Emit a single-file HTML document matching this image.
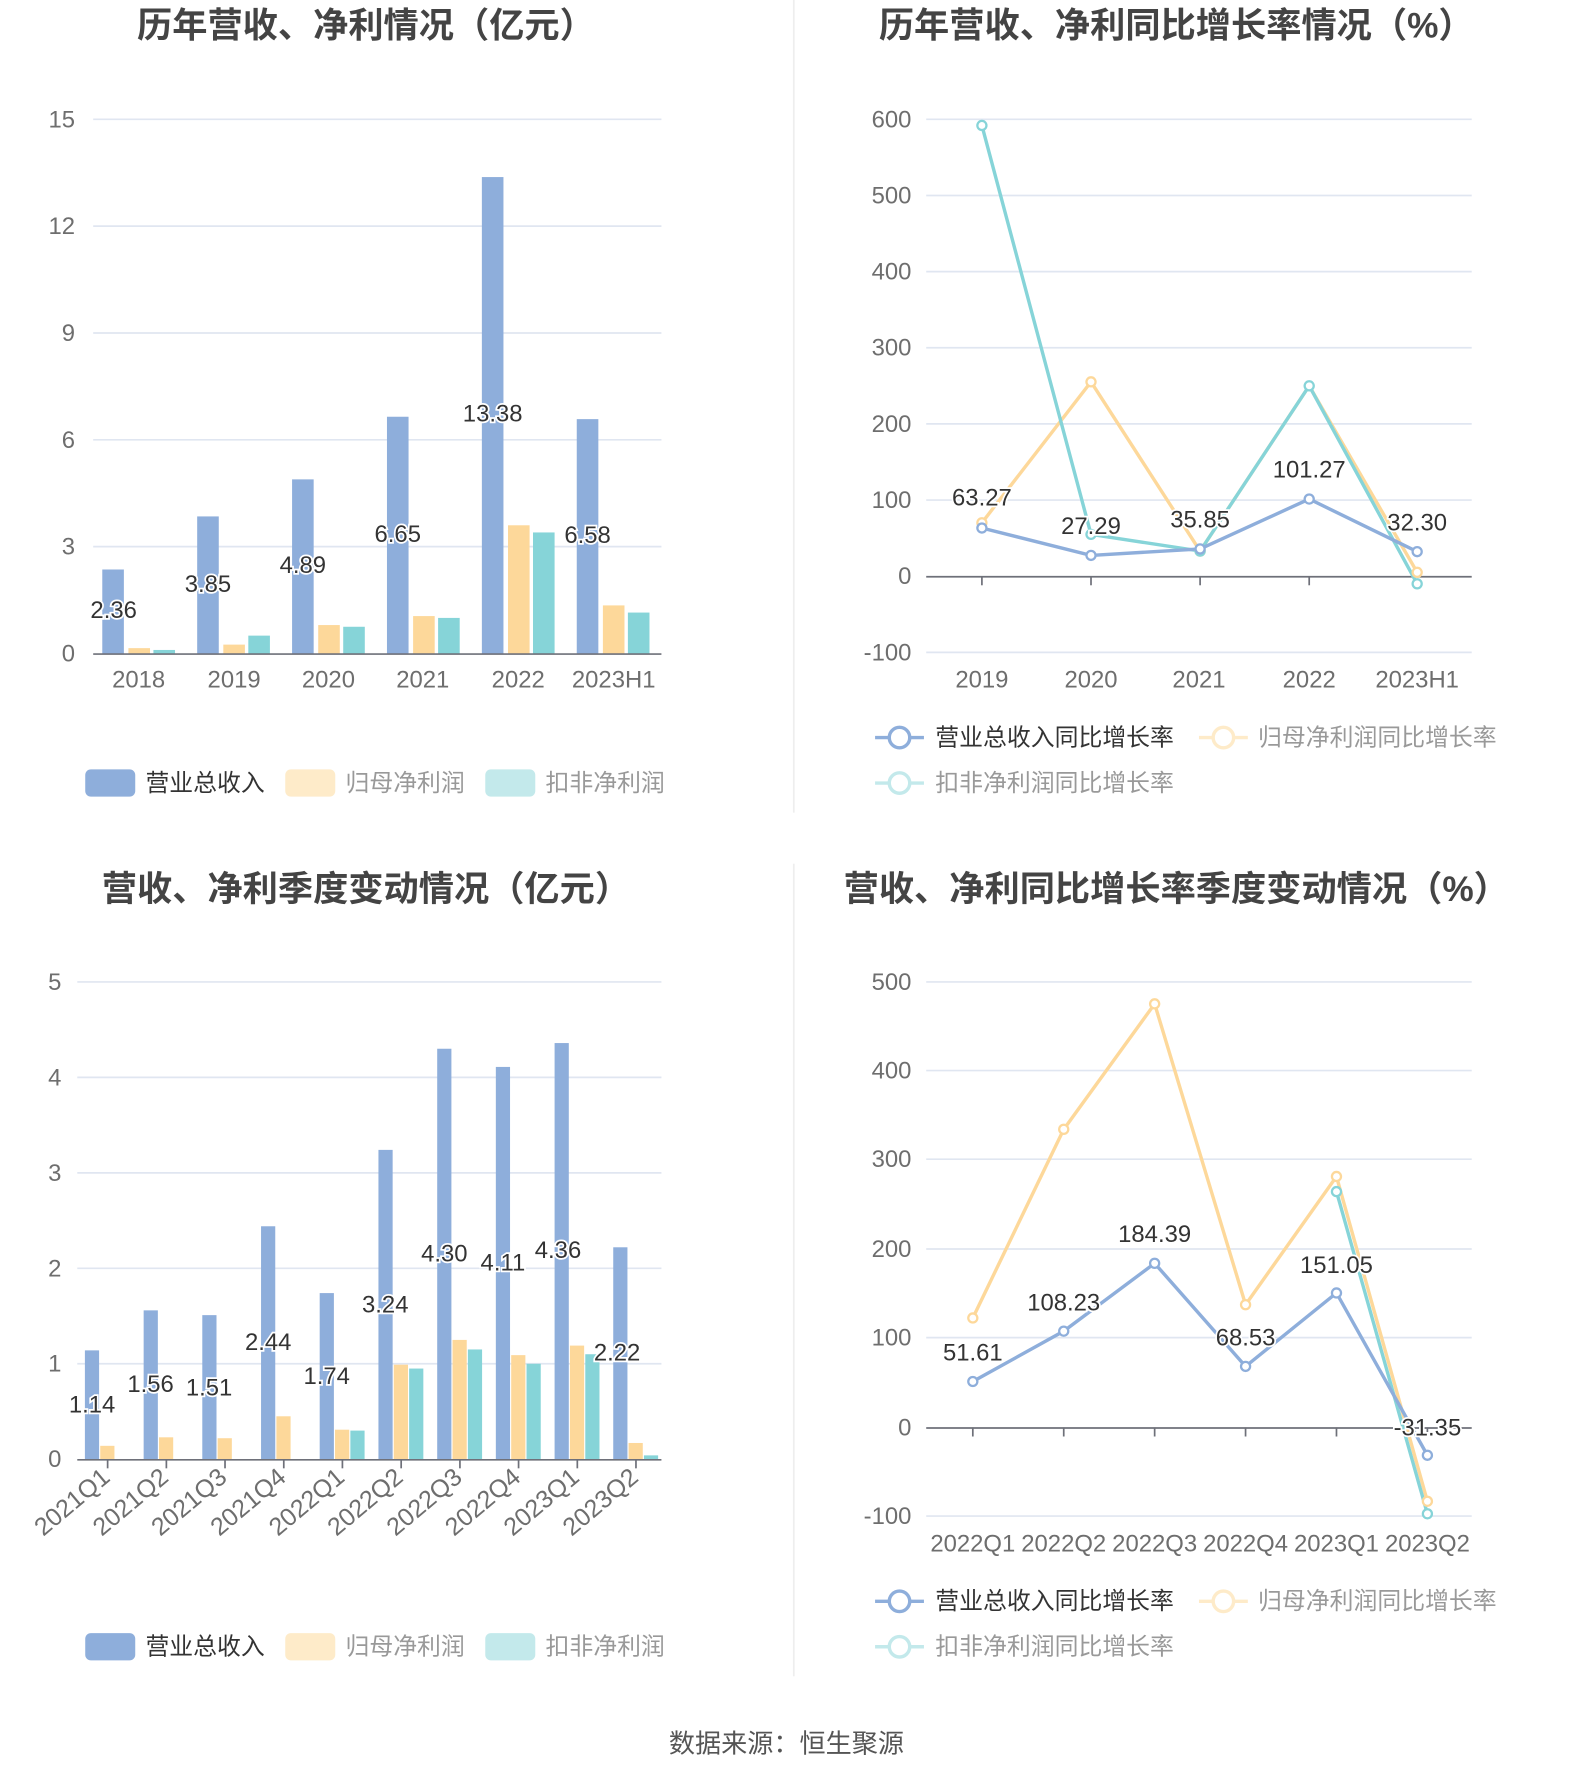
<!DOCTYPE html>
<html><head><meta charset="utf-8"><style>
html,body{margin:0;padding:0;background:#fff;}
svg{display:block;font-family:"Liberation Sans","Noto Sans CJK SC",sans-serif;}
.t{font-size:31px;font-weight:bold;fill:#444;text-anchor:middle;}
.ax{font-size:21px;fill:#6e6e6e;}
.rot{font-size:22px;}
.r{text-anchor:end;}
.c{text-anchor:middle;}
.g{stroke:#e0e6f1;stroke-width:1.5;}
.v{font-size:21px;fill:#333;text-anchor:middle;stroke:#fff;stroke-width:3;paint-order:stroke;}
.lg{font-size:21px;}
.B{fill:#8eaedb}.O{fill:#fdd89a}.T{fill:#86d4d8}
</style></head><body>
<svg width="1574" height="1782" viewBox="0 0 1385 1568" preserveAspectRatio="none">
<rect width="1385" height="1568" fill="#fff"/>
<line x1="698.5" y1="0" x2="698.5" y2="715" stroke="#eee" stroke-width="1.5"/>
<line x1="698.5" y1="760" x2="698.5" y2="1475" stroke="#eee" stroke-width="1.5"/>

<!-- Chart 1 -->
<text class="t" x="322" y="33">历年营收、净利情况（亿元）</text>
<g class="g">
<line x1="82" y1="105" x2="582" y2="105"/><line x1="82" y1="199" x2="582" y2="199"/><line x1="82" y1="293" x2="582" y2="293"/><line x1="82" y1="387" x2="582" y2="387"/><line x1="82" y1="481" x2="582" y2="481"/>
</g>
<g class="ax r">
<text x="66" y="112">15</text><text x="66" y="206">12</text><text x="66" y="300">9</text><text x="66" y="394">6</text><text x="66" y="488">3</text><text x="66" y="582">0</text>
</g>
<rect class="B" x="90" y="501.1" width="19" height="73.9"/><rect class="O" x="113" y="570.3" width="19" height="4.7"/><rect class="T" x="135" y="571.9" width="19" height="3.1"/>
<rect class="B" x="173.5" y="454.4" width="19" height="120.6"/><rect class="O" x="196.5" y="567.2" width="19" height="7.8"/><rect class="T" x="218.5" y="559.3" width="19" height="15.7"/>
<rect class="B" x="257" y="421.8" width="19" height="153.2"/><rect class="O" x="280" y="550" width="19" height="25"/><rect class="T" x="302" y="551.5" width="19" height="23.5"/>
<rect class="B" x="340.5" y="366.7" width="19" height="208.3"/><rect class="O" x="363.5" y="542.1" width="19" height="32.9"/><rect class="T" x="385.5" y="543.7" width="19" height="31.3"/>
<rect class="B" x="424" y="155.8" width="19" height="419.2"/><rect class="O" x="447" y="462.2" width="19" height="112.8"/><rect class="T" x="469" y="468.5" width="19" height="106.5"/>
<rect class="B" x="507.5" y="368.8" width="19" height="206.2"/><rect class="O" x="530.5" y="532.7" width="19" height="42.3"/><rect class="T" x="552.5" y="539" width="19" height="36"/>
<line x1="82" y1="575.5" x2="582" y2="575.5" stroke="#6e7079" stroke-width="1.5"/>
<text class="v" x="100" y="544">2.36</text><text class="v" x="183" y="521">3.85</text><text class="v" x="266.5" y="504">4.89</text><text class="v" x="350" y="477">6.65</text><text class="v" x="433.5" y="371">13.38</text><text class="v" x="517" y="478">6.58</text>
<g class="ax c">
<text x="122" y="605">2018</text><text x="206" y="605">2019</text><text x="289" y="605">2020</text><text x="372" y="605">2021</text><text x="456" y="605">2022</text><text x="540" y="605">2023H1</text>
</g>
<rect x="75" y="677" width="44" height="24" rx="5" fill="#8eaedb"/><text class="lg" x="128" y="696" fill="#333">营业总收入</text>
<rect x="251" y="677" width="44" height="24" rx="5" fill="#feebc9"/><text class="lg" x="304" y="696" fill="#999">归母净利润</text>
<rect x="427" y="677" width="44" height="24" rx="5" fill="#c3e9eb"/><text class="lg" x="480" y="696" fill="#999">扣非净利润</text>

<!-- Chart 2 -->
<text class="t" x="1035" y="33">历年营收、净利同比增长率情况（%）</text>
<g class="g">
<line x1="815" y1="105" x2="1295" y2="105"/><line x1="815" y1="172" x2="1295" y2="172"/><line x1="815" y1="239" x2="1295" y2="239"/><line x1="815" y1="306" x2="1295" y2="306"/><line x1="815" y1="373" x2="1295" y2="373"/><line x1="815" y1="440" x2="1295" y2="440"/><line x1="815" y1="574" x2="1295" y2="574"/>
</g>
<g class="ax r">
<text x="802" y="112">600</text><text x="802" y="179">500</text><text x="802" y="246">400</text><text x="802" y="313">300</text><text x="802" y="380">200</text><text x="802" y="447">100</text><text x="802" y="514">0</text><text x="802" y="581">-100</text>
</g>
<g stroke="#6e7079" stroke-width="1.5"><line x1="815" y1="507.5" x2="1295" y2="507.5"/>
<line x1="864" y1="507" x2="864" y2="515"/><line x1="960" y1="507" x2="960" y2="515"/><line x1="1056" y1="507" x2="1056" y2="515"/><line x1="1152" y1="507" x2="1152" y2="515"/></g>
<g fill="#fff" stroke-width="3">
<polyline fill="none" stroke="#fdd89a" points="864,460 960,336 1056,484.9 1152,339.5 1247,503.6"/>
<polyline fill="none" stroke="#86d4d8" points="864,110.4 960,470.2 1056,484.9 1152,339.5 1247,513.7"/>
<polyline fill="none" stroke="#8eaedb" points="864,464.6 960,488.7 1056,483 1152,439.1 1247,485.4"/>
<g stroke="#fdd89a" stroke-width="2"><circle cx="864" cy="460" r="4"/><circle cx="960" cy="336" r="4"/><circle cx="1056" cy="484.9" r="4"/><circle cx="1247" cy="503.6" r="4"/></g>
<g stroke="#86d4d8" stroke-width="2"><circle cx="864" cy="110.4" r="4"/><circle cx="960" cy="470.2" r="4"/><circle cx="1056" cy="484.9" r="4"/><circle cx="1152" cy="339.5" r="4"/><circle cx="1247" cy="513.7" r="4"/></g>
<g stroke="#8eaedb" stroke-width="2"><circle cx="864" cy="464.6" r="4"/><circle cx="960" cy="488.7" r="4"/><circle cx="1056" cy="483" r="4"/><circle cx="1152" cy="439.1" r="4"/><circle cx="1247" cy="485.4" r="4"/></g>
</g>
<text class="v" x="864" y="445">63.27</text><text class="v" x="960" y="470">27.29</text><text class="v" x="1056" y="464">35.85</text><text class="v" x="1152" y="420">101.27</text><text class="v" x="1247" y="467">32.30</text>
<g class="ax c">
<text x="864" y="605">2019</text><text x="960" y="605">2020</text><text x="1055" y="605">2021</text><text x="1152" y="605">2022</text><text x="1247" y="605">2023H1</text>
</g>
<g fill="#fff" stroke-width="3">
<line x1="770" y1="649" x2="813" y2="649" stroke="#8eaedb"/><circle cx="791.5" cy="649" r="9" stroke="#8eaedb"/>
<line x1="1055" y1="649" x2="1098" y2="649" stroke="#feebc9"/><circle cx="1076.5" cy="649" r="9" stroke="#feebc9"/>
<line x1="770" y1="689" x2="813" y2="689" stroke="#c3e9eb"/><circle cx="791.5" cy="689" r="9" stroke="#c3e9eb"/>
</g>
<text class="lg" x="823" y="656" fill="#333">营业总收入同比增长率</text>
<text class="lg" x="1107" y="656" fill="#999">归母净利润同比增长率</text>
<text class="lg" x="823" y="696" fill="#999">扣非净利润同比增长率</text>

<!-- Chart 3 -->
<text class="t" x="322" y="793">营收、净利季度变动情况（亿元）</text>
<g class="g">
<line x1="68" y1="864" x2="582" y2="864"/><line x1="68" y1="948" x2="582" y2="948"/><line x1="68" y1="1032" x2="582" y2="1032"/><line x1="68" y1="1116" x2="582" y2="1116"/><line x1="68" y1="1200" x2="582" y2="1200"/>
</g>
<g class="ax r">
<text x="54" y="871">5</text><text x="54" y="955">4</text><text x="54" y="1039">3</text><text x="54" y="1123">2</text><text x="54" y="1207">1</text><text x="54" y="1291">0</text>
</g>
<g>
<rect class="B" x="74.7" y="1188.2" width="12.5" height="95.8"/><rect class="O" x="88.2" y="1272.2" width="12.5" height="11.8"/>
<rect class="B" x="126.4" y="1153" width="12.5" height="131"/><rect class="O" x="139.9" y="1264.7" width="12.5" height="19.3"/>
<rect class="B" x="178" y="1157.2" width="12.5" height="126.8"/><rect class="O" x="191.5" y="1265.5" width="12.5" height="18.5"/>
<rect class="B" x="229.7" y="1079" width="12.5" height="205"/><rect class="O" x="243.2" y="1246.2" width="12.5" height="37.8"/>
<rect class="B" x="281.3" y="1137.8" width="12.5" height="146.2"/><rect class="O" x="294.8" y="1258" width="12.5" height="26"/><rect class="T" x="308.3" y="1258.8" width="12.5" height="25.2"/>
<rect class="B" x="333" y="1011.8" width="12.5" height="272.2"/><rect class="O" x="346.5" y="1200.8" width="12.5" height="83.2"/><rect class="T" x="360" y="1204.2" width="12.5" height="79.8"/>
<rect class="B" x="384.7" y="922.8" width="12.5" height="361.2"/><rect class="O" x="398.2" y="1179" width="12.5" height="105"/><rect class="T" x="411.7" y="1187.4" width="12.5" height="96.6"/>
<rect class="B" x="436.3" y="938.8" width="12.5" height="345.2"/><rect class="O" x="449.8" y="1192.4" width="12.5" height="91.6"/><rect class="T" x="463.3" y="1200" width="12.5" height="84"/>
<rect class="B" x="488" y="917.8" width="12.5" height="366.2"/><rect class="O" x="501.5" y="1184" width="12.5" height="100"/><rect class="T" x="515" y="1191.6" width="12.5" height="92.4"/>
<rect class="B" x="539.6" y="1097.5" width="12.5" height="186.5"/><rect class="O" x="553.1" y="1269.7" width="12.5" height="14.3"/><rect class="T" x="566.6" y="1280.6" width="12.5" height="3.4"/>
</g>
<g stroke="#6e7079" stroke-width="1.5"><line x1="68" y1="1284.5" x2="582" y2="1284.5"/>
<line x1="94.7" y1="1284" x2="94.7" y2="1292"/><line x1="146.4" y1="1284" x2="146.4" y2="1292"/><line x1="198" y1="1284" x2="198" y2="1292"/><line x1="249.7" y1="1284" x2="249.7" y2="1292"/><line x1="301.3" y1="1284" x2="301.3" y2="1292"/><line x1="353" y1="1284" x2="353" y2="1292"/><line x1="404.7" y1="1284" x2="404.7" y2="1292"/><line x1="456.3" y1="1284" x2="456.3" y2="1292"/><line x1="508" y1="1284" x2="508" y2="1292"/><line x1="559.6" y1="1284" x2="559.6" y2="1292"/></g>
<text class="v" x="81" y="1243">1.14</text><text class="v" x="132.5" y="1225">1.56</text><text class="v" x="184" y="1228">1.51</text><text class="v" x="236" y="1188">2.44</text><text class="v" x="287.5" y="1218">1.74</text><text class="v" x="339" y="1155">3.24</text><text class="v" x="391" y="1110">4.30</text><text class="v" x="442.5" y="1118">4.11</text><text class="v" x="491" y="1107">4.36</text><text class="v" x="543" y="1197">2.22</text>
<g class="ax rot r">
<text transform="translate(98,1302) rotate(-40)">2021Q1</text><text transform="translate(149.5,1302) rotate(-40)">2021Q2</text><text transform="translate(201,1302) rotate(-40)">2021Q3</text><text transform="translate(253,1302) rotate(-40)">2021Q4</text><text transform="translate(304.5,1302) rotate(-40)">2022Q1</text><text transform="translate(356,1302) rotate(-40)">2022Q2</text><text transform="translate(408,1302) rotate(-40)">2022Q3</text><text transform="translate(459.5,1302) rotate(-40)">2022Q4</text><text transform="translate(511,1302) rotate(-40)">2023Q1</text><text transform="translate(563,1302) rotate(-40)">2023Q2</text>
</g>
<rect x="75" y="1437" width="44" height="24" rx="5" fill="#8eaedb"/><text class="lg" x="128" y="1456" fill="#333">营业总收入</text>
<rect x="251" y="1437" width="44" height="24" rx="5" fill="#feebc9"/><text class="lg" x="304" y="1456" fill="#999">归母净利润</text>
<rect x="427" y="1437" width="44" height="24" rx="5" fill="#c3e9eb"/><text class="lg" x="480" y="1456" fill="#999">扣非净利润</text>

<!-- Chart 4 -->
<text class="t" x="1035" y="793">营收、净利同比增长率季度变动情况（%）</text>
<g class="g">
<line x1="815" y1="864" x2="1295" y2="864"/><line x1="815" y1="942" x2="1295" y2="942"/><line x1="815" y1="1020" x2="1295" y2="1020"/><line x1="815" y1="1099" x2="1295" y2="1099"/><line x1="815" y1="1177" x2="1295" y2="1177"/><line x1="815" y1="1334" x2="1295" y2="1334"/>
</g>
<g class="ax r">
<text x="802" y="871">500</text><text x="802" y="949">400</text><text x="802" y="1027">300</text><text x="802" y="1106">200</text><text x="802" y="1184">100</text><text x="802" y="1263">0</text><text x="802" y="1341">-100</text>
</g>
<g stroke="#6e7079" stroke-width="1.5"><line x1="815" y1="1256.5" x2="1295" y2="1256.5"/>
<line x1="856" y1="1256" x2="856" y2="1264"/><line x1="936" y1="1256" x2="936" y2="1264"/><line x1="1016" y1="1256" x2="1016" y2="1264"/><line x1="1096" y1="1256" x2="1096" y2="1264"/><line x1="1176" y1="1256" x2="1176" y2="1264"/><line x1="1256" y1="1256" x2="1256" y2="1264"/></g>
<g fill="#fff" stroke-width="3">
<polyline fill="none" stroke="#fdd89a" points="856,1159.7 936,993.7 1016,883.3 1096,1148 1176,1035.2 1256,1321"/>
<polyline fill="none" stroke="#86d4d8" points="1176,1048.5 1256,1332"/>
<polyline fill="none" stroke="#8eaedb" points="856,1215.6 936,1171.3 1016,1111.6 1096,1202.3 1176,1137.7 1256,1280.5"/>
<g stroke="#fdd89a" stroke-width="2"><circle cx="856" cy="1159.7" r="4"/><circle cx="936" cy="993.7" r="4"/><circle cx="1016" cy="883.3" r="4"/><circle cx="1096" cy="1148" r="4"/><circle cx="1176" cy="1035.2" r="4"/><circle cx="1256" cy="1321" r="4"/></g>
<g stroke="#86d4d8" stroke-width="2"><circle cx="1176" cy="1048.5" r="4"/><circle cx="1256" cy="1332" r="4"/></g>
<g stroke="#8eaedb" stroke-width="2"><circle cx="856" cy="1215.6" r="4"/><circle cx="936" cy="1171.3" r="4"/><circle cx="1016" cy="1111.6" r="4"/><circle cx="1096" cy="1202.3" r="4"/><circle cx="1176" cy="1137.7" r="4"/><circle cx="1256" cy="1280.5" r="4"/></g>
</g>
<text class="v" x="856" y="1197">51.61</text><text class="v" x="936" y="1153">108.23</text><text class="v" x="1016" y="1093">184.39</text><text class="v" x="1096" y="1184">68.53</text><text class="v" x="1176" y="1120">151.05</text><text class="v" x="1256" y="1263">-31.35</text>
<g class="ax c">
<text x="856" y="1365">2022Q1</text><text x="936" y="1365">2022Q2</text><text x="1016" y="1365">2022Q3</text><text x="1096" y="1365">2022Q4</text><text x="1176" y="1365">2023Q1</text><text x="1256" y="1365">2023Q2</text>
</g>
<g fill="#fff" stroke-width="3">
<line x1="770" y1="1409" x2="813" y2="1409" stroke="#8eaedb"/><circle cx="791.5" cy="1409" r="9" stroke="#8eaedb"/>
<line x1="1055" y1="1409" x2="1098" y2="1409" stroke="#feebc9"/><circle cx="1076.5" cy="1409" r="9" stroke="#feebc9"/>
<line x1="770" y1="1449" x2="813" y2="1449" stroke="#c3e9eb"/><circle cx="791.5" cy="1449" r="9" stroke="#c3e9eb"/>
</g>
<text class="lg" x="823" y="1416" fill="#333">营业总收入同比增长率</text>
<text class="lg" x="1107" y="1416" fill="#999">归母净利润同比增长率</text>
<text class="lg" x="823" y="1456" fill="#999">扣非净利润同比增长率</text>

<text x="692" y="1542" text-anchor="middle" font-size="23" fill="#555">数据来源：恒生聚源</text>
</svg>
</body></html>
